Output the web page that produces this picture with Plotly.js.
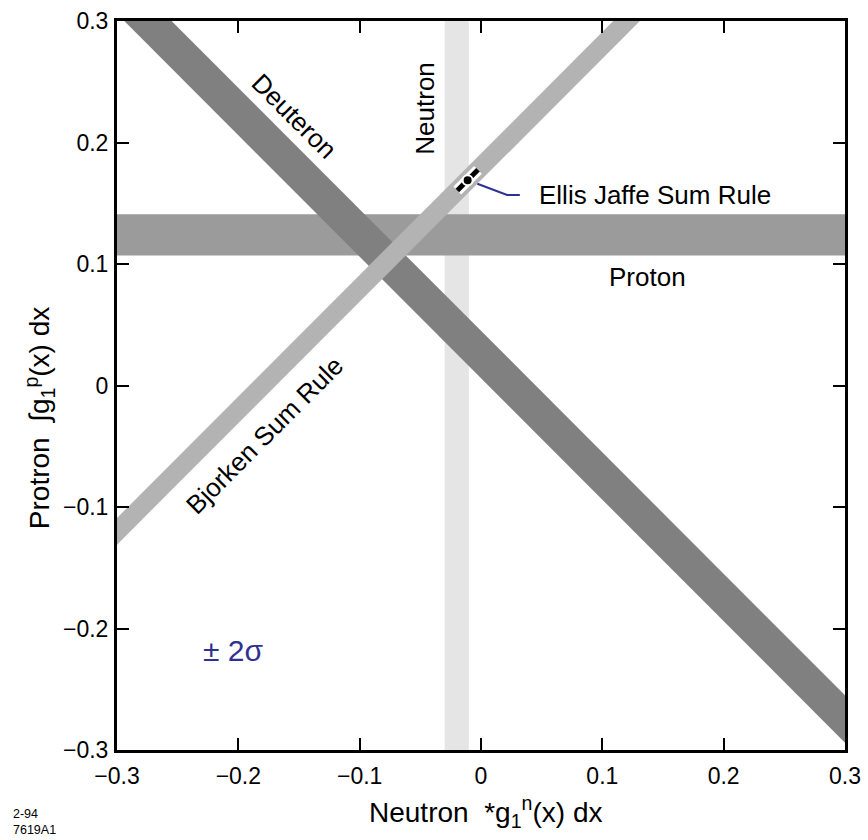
<!DOCTYPE html>
<html>
<head>
<meta charset="utf-8">
<script src="https://cdn.plot.ly/plotly-3.0.1.min.js"></script>
<style>html,body{margin:0;padding:0;background:#fff;}#chart{width:868px;height:840px;}</style>
</head>
<body>
<div id="chart"></div>
<script>
// ---- data ----
const xTicks = [-0.3, -0.2, -0.1, 0, 0.1, 0.2, 0.3];
const xTickText = ['\u22120.3', '\u22120.2', '\u22120.1', '0', '0.1', '0.2', '0.3'];
const yTicks = [-0.3, -0.2, -0.1, 0, 0.1, 0.2, 0.3];
const yTickText = ['\u22120.3', '\u22120.2', '\u22120.1', '0', '0.1', '0.2', '0.3'];

// Proton band: horizontal limits of integral g1p (y)
const protonBand = [0.107, 0.141];
// Neutron band: vertical limits of integral g1n (x)
const neutronBand = [-0.030, -0.010];
// Deuteron band: y = -x + c, c in range
const deuteronIntercepts = [0.006, 0.045];
// Bjorken sum rule band: y = x + c, c in range
const bjorkenIntercepts = [0.169, 0.191];
// Ellis-Jaffe sum rule point and its extent along the band
const ejX = [-0.011];
const ejY = [0.169];
const ejSegX = [-0.0195, -0.0025];
const ejSegY = [0.1605, 0.1775];
// leader line from label to the Ellis-Jaffe point
const ejLeaderX = [0.032, 0.0215, -0.0030];
const ejLeaderY = [0.1568, 0.1568, 0.1660];

const xSpan = [-0.4, 0.4];
const ySpan = [-0.4, 0.4];

const FONT = 'Liberation Sans, Arial, Helvetica, sans-serif';

function rectX(lo, hi) { return [lo, hi, hi, lo, lo]; }
function diagBand(c, slope) {
  const xs = [xSpan[0], xSpan[1], xSpan[1], xSpan[0], xSpan[0]];
  const cs = [c[0], c[0], c[1], c[1], c[0]];
  return { x: xs, y: xs.map((v, i) => slope * v + cs[i]) };
}

const deut = diagBand(deuteronIntercepts, -1);
const bjork = diagBand(bjorkenIntercepts, 1);

const traces = [
  { // Neutron band
    x: rectX(neutronBand[0], neutronBand[1]),
    y: [ySpan[0], ySpan[0], ySpan[1], ySpan[1], ySpan[0]],
    mode: 'lines', fill: 'toself', fillcolor: '#e5e5e5',
    line: { width: 0, color: '#e5e5e5' }, hoverinfo: 'skip', showlegend: false
  },
  { // Proton band
    x: [xSpan[0], xSpan[1], xSpan[1], xSpan[0], xSpan[0]],
    y: [protonBand[0], protonBand[0], protonBand[1], protonBand[1], protonBand[0]],
    mode: 'lines', fill: 'toself', fillcolor: '#9b9b9b',
    line: { width: 0, color: '#9b9b9b' }, hoverinfo: 'skip', showlegend: false
  },
  { // Deuteron band
    x: deut.x, y: deut.y,
    mode: 'lines', fill: 'toself', fillcolor: '#808080',
    line: { width: 0, color: '#808080' }, hoverinfo: 'skip', showlegend: false
  },
  { // Bjorken band
    x: bjork.x, y: bjork.y,
    mode: 'lines', fill: 'toself', fillcolor: '#b3b3b3',
    line: { width: 0, color: '#b3b3b3' }, hoverinfo: 'skip', showlegend: false
  },
  { // leader line
    x: ejLeaderX, y: ejLeaderY, mode: 'lines',
    line: { width: 2, color: '#2e3192' }, hoverinfo: 'skip', showlegend: false
  },
  { // EJ white outline
    x: ejSegX, y: ejSegY, mode: 'lines',
    line: { width: 11, color: '#ffffff' }, hoverinfo: 'skip', showlegend: false
  },
  { // EJ black bar
    x: ejSegX, y: ejSegY, mode: 'lines',
    line: { width: 5, color: '#000000' }, hoverinfo: 'skip', showlegend: false
  },
  { // EJ dot
    x: ejX, y: ejY, mode: 'markers',
    marker: { size: 10, color: '#000000', line: { width: 2, color: '#ffffff' } },
    hoverinfo: 'skip', showlegend: false
  }
];

const axisCommon = {
  range: [-0.3, 0.3], showgrid: false, zeroline: false,
  showline: true, linecolor: '#000', linewidth: 3, mirror: 'ticks',
  ticks: 'inside', ticklen: 12, tickwidth: 2, tickcolor: '#000',
  tickmode: 'array',
  tickfont: { family: FONT, size: 23, color: '#000' }
};

const labelFont = { family: FONT, size: 26, color: '#000' };

const layout = {
  width: 868, height: 840,
  margin: { l: 117, r: 23, t: 21, b: 90 },
  paper_bgcolor: '#fff', plot_bgcolor: '#fff',
  showlegend: false,
  xaxis: Object.assign({}, axisCommon, { tickvals: xTicks, ticktext: xTickText, ticklabelstandoff: 3 }),
  yaxis: Object.assign({}, axisCommon, { tickvals: yTicks, ticktext: yTickText, ticklabelstandoff: 1 }),
  annotations: [
    { xref: 'x', yref: 'y', x: -0.154, y: 0.222, text: 'Deuteron', textangle: 45, showarrow: false, font: labelFont },
    { xref: 'x', yref: 'y', x: -0.046, y: 0.228, text: 'Neutron', textangle: -90, showarrow: false, font: labelFont },
    { xref: 'x', yref: 'y', x: -0.178, y: -0.041, text: 'Bjorken Sum Rule', textangle: -45, showarrow: false, font: labelFont },
    { xref: 'x', yref: 'y', x: 0.137, y: 0.089, text: 'Proton', showarrow: false, font: labelFont },
    { xref: 'x', yref: 'y', x: 0.046, y: 0.157, text: 'Ellis Jaffe Sum Rule', xanchor: 'left', showarrow: false, font: labelFont },
    { xref: 'x', yref: 'y', x: -0.204, y: -0.218, text: '\u00b1 2\u03c3', showarrow: false,
      font: { family: FONT, size: 30, color: '#2e3192' } },
    { xref: 'paper', yref: 'paper', x: 0.506, y: -0.085, xanchor: 'center', yanchor: 'middle',
      text: 'Neutron  *g<sub>1</sub><sup>n</sup>(x) dx',
      showarrow: false, font: { family: FONT, size: 28, color: '#000' } },
    { xref: 'paper', yref: 'paper', x: -0.106, y: 0.455, xanchor: 'center', yanchor: 'middle',
      text: 'Protron  \u222bg<sub>1</sub><sup>p</sup>(x) dx',
      textangle: -90, showarrow: false, font: { family: FONT, size: 28, color: '#000' } },
    { xref: 'paper', yref: 'paper', x: -0.146, y: -0.0754, xanchor: 'left', yanchor: 'top', align: 'left',
      text: '2-94<br>7619A1', showarrow: false, font: { family: FONT, size: 12.5, color: '#000' } }
  ]
};

Plotly.newPlot('chart', traces, layout, { displayModeBar: false, staticPlot: true });
</script>
</body>
</html>
